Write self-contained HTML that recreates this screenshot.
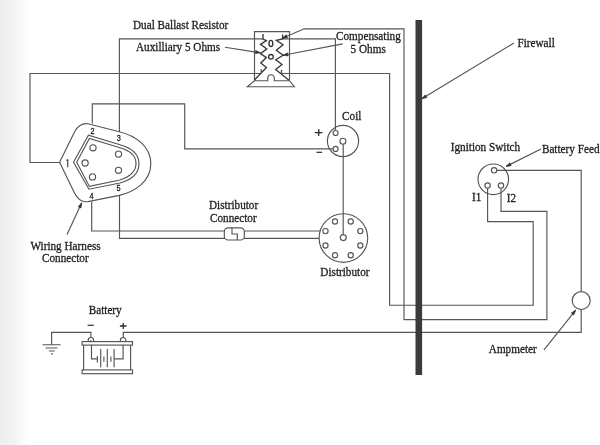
<!DOCTYPE html>
<html><head><meta charset="utf-8">
<style>
html,body{margin:0;padding:0;background:#fff;width:600px;height:445px;overflow:hidden}
svg{display:block;will-change:transform}
text{font-family:"Liberation Serif",serif;font-size:12px;fill:#1e1e1e;stroke:#1e1e1e;stroke-width:0.3}
.d{font-family:"Liberation Sans",sans-serif;font-size:8.6px}
</style></head><body>
<svg width="600" height="445" viewBox="0 0 600 445">
<defs><linearGradient id="lg" x1="0" x2="1" y1="0" y2="0"><stop offset="0" stop-color="#eeeeee"/><stop offset="0.5" stop-color="#f4f4f4"/><stop offset="1" stop-color="#ffffff"/></linearGradient></defs>
<rect x="0" y="0" width="30" height="445" fill="url(#lg)"/>
<g fill="none" stroke="#555" stroke-width="1.15">
<path d="M60,162.5 H30 V73.5 H261 M280.5,73.5 H389.6 V305.2 H533.2 V221.6 H487.6 V188.2"/>
<path d="M119.4,132 V38.8 H263 M282.5,38.8 H335.4 V130.5"/>
<path d="M92.3,123.5 V103.9 H184.7 V148.9 H333.1"/>
<path d="M91.7,201.5 V231 H320"/>
<path d="M119.5,195 V238.3 H319.1"/>
<path d="M343.2,144.2 V234.6"/>
<path d="M282.3,38.3 L304.2,28.8 H404 V319.6 H546.9 V211.3 H501 V188.2"/>
<path d="M496.8,170.3 H581.2 V291.6"/>
<path d="M581.2,309.6 V332.4 H123.3 V338"/>
<path d="M90.9,338 V332.4 H51.6 V344.7"/>
<path d="M42.5,344.7 H60.6 M45.6,348 H57.4 M49,351 H54.7 M51,353.8 H52.8"/>
<circle cx="581.2" cy="300.6" r="9"/>
<circle cx="343" cy="141" r="15.6"/>
<circle cx="335.6" cy="133" r="2.5"/>
<circle cx="342.9" cy="141.2" r="3"/>
<circle cx="335.6" cy="148.9" r="2.5"/>
<circle cx="343.4" cy="238" r="24.3"/>
<circle cx="343.3" cy="237.6" r="3"/>
<circle cx="335" cy="221.5" r="2.6"/>
<circle cx="350.7" cy="221.5" r="2.6"/>
<circle cx="325.5" cy="231.1" r="2.6"/>
<circle cx="360.3" cy="231.1" r="2.6"/>
<circle cx="325.5" cy="245.5" r="2.6"/>
<circle cx="360.3" cy="245.5" r="2.6"/>
<circle cx="335" cy="255.2" r="2.6"/>
<circle cx="350.7" cy="255.2" r="2.6"/>
<circle cx="493.3" cy="179.3" r="15.3"/>
<circle cx="494.1" cy="170.3" r="2.7"/>
<circle cx="487.6" cy="185.5" r="2.7"/>
<circle cx="501" cy="185.5" r="2.7"/>
<path d="M59.6,162.3 L74.5,132 Q79.5,122.5 88,123.7 L119.3,131.8 C134,135.5 150.8,145 150.8,163.8 C150.8,182 134,192 119.3,195.4 L88,201.6 Q79.5,203 74.5,193 Z"/>
<path d="M73.5,162.3 L88.4,135.3 L120,144.8 C131,148 139,153 139,163.5 C139,174 131,180 120,183 L89,189.2 Z"/>
<path d="M76.7,162.3 L89.4,138.5 L120,147.8 C129,150.5 136,155 136,163.5 C136,172 129,177 120,180 L89.4,186.4 Z"/>
<circle cx="93" cy="147.8" r="3.1"/>
<circle cx="85.1" cy="163" r="3.1"/>
<circle cx="92.5" cy="176.9" r="3.1"/>
<circle cx="118.5" cy="154.1" r="3.1"/>
<circle cx="118.5" cy="170.3" r="3.1"/>
<rect x="224.3" y="227.8" width="20" height="12.2" rx="3.8" ry="3.8" fill="#fff"/>
<path d="M232,227.8 V234 H237.3 V240"/>
<path d="M254.5,80.7 V31.6 H289.5 V80.7"/>
<path d="M247.3,86.7 L254.5,80.7 H267.8 V78 A3.25,3.25 0 0 1 274.3,78 V80.7 H289.5 L294.4,86.7 Z"/>
<path stroke="#3a3a3a" stroke-width="1.35" d="M263,34 V39 L266.4,40.6 L260.5,44.4 L266.8,48.9 L260.5,53.6 L266.4,57.6 L260.8,63 L266.4,67.5 L254.4,80"/>
<path stroke="#3a3a3a" stroke-width="1.35" d="M282.6,34.5 V39 L276.3,40.4 L283,44.8 L276.3,50.2 L283,55.2 L275.8,59.7 L282,64.5 L275.7,69.5 L289,80.2"/>
<path d="M261.3,69.3 V73.5 M281.5,69.8 V74.3" stroke-width="1.4"/>
<ellipse cx="270.9" cy="43.5" rx="1.9" ry="3.1" stroke-width="1.4" stroke="#333"/>
<circle cx="270.9" cy="56.8" r="2.3" stroke-width="1.3" stroke="#333"/>
<path d="M225,47.3 L260.5,52.8"/>
<path d="M342.7,43.9 L283,55.3"/>
<path d="M541,149 L506,166.5"/>
<path d="M67.1,234.4 L81.7,202.8"/>
<path d="M544,349.9 L575.7,310.1"/>
<path d="M514,43 L421.8,98.8"/>
<path d="M90.7,341.6 V340 M88.2,341.6 V340.2 A2.7,2.7 0 0 1 93.6,340.2 V341.6 M120.4,341.6 V340.2 A2.7,2.7 0 0 1 125.8,340.2 V341.6"/>
<rect x="82.1" y="341.6" width="50.4" height="3.5"/>
<rect x="82.1" y="369.9" width="50.4" height="3.8"/>
<path d="M83.6,345.1 V369.9 M130.6,345.1 V369.9"/>
<path d="M91.5,345.1 V358.9 H97.4 M97.4,355.9 V362.4 M100.7,348.9 V367.2 M103.9,356.4 V361.8 M107.3,348.9 V367.2 M110.9,356.4 V361.8 M114.1,348.9 V367.2 M114.1,358.9 H123.1 V345.1"/>
</g>
<g fill="#333" stroke="#333" stroke-width="0.6">
<path d="M260.50,52.80 L255.31,53.62 L255.80,50.45 Z"/>
<path d="M283.00,55.30 L287.61,52.79 L288.21,55.93 Z"/>
<path d="M506.00,166.50 L509.76,162.83 L511.19,165.70 Z"/>
<path d="M81.70,202.80 L81.06,208.01 L78.15,206.67 Z"/>
<path d="M575.70,310.10 L573.84,315.01 L571.33,313.01 Z"/>
<path d="M421.80,98.80 L425.25,94.84 L426.91,97.58 Z"/>
<path d="M282.30,38.30 L286.20,34.78 L287.52,37.70 Z"/>
</g>
<rect x="415.5" y="20" width="6.6" height="355" fill="#3a3a3a"/>
<text transform="translate(133,28.8) scale(0.935,1)">Dual Ballast Resistor</text>
<text transform="translate(136,50.5) scale(0.935,1)">Auxilliary 5 Ohms</text>
<text transform="translate(336,39.8) scale(0.935,1)">Compensating</text>
<text transform="translate(350.6,53.4) scale(0.935,1)">5 Ohms</text>
<text transform="translate(517.4,46.7) scale(0.935,1)">Firewall</text>
<text transform="translate(342.1,119.7) scale(0.935,1)">Coil</text>
<text transform="translate(450.7,150.8) scale(0.935,1)">Ignition Switch</text>
<text transform="translate(541.9,152.7) scale(0.935,1)">Battery Feed</text>
<text transform="translate(472,200.7) scale(0.935,1)">I1</text>
<text transform="translate(506.7,202) scale(0.935,1)">I2</text>
<text transform="translate(30.4,249.5) scale(0.935,1)">Wiring Harness</text>
<text transform="translate(42,262.1) scale(0.935,1)">Connector</text>
<text transform="translate(209,208.8) scale(0.935,1)">Distributor</text>
<text transform="translate(210,222.4) scale(0.935,1)">Connector</text>
<text transform="translate(320.3,276.4) scale(0.935,1)">Distributor</text>
<text transform="translate(88.7,314.2) scale(0.935,1)">Battery</text>
<text transform="translate(488.8,353.2) scale(0.935,1)">Ampmeter</text>
<g stroke="#2a2a2a" fill="none">
<path d="M67.8,159.4 V167.2 M66.5,160.7 L67.8,159.4" stroke-width="1.1" stroke="#333"/>
<path d="M314.8,132.6 H322.5 M318.7,129.3 V135.8" stroke-width="1.4"/>
<path d="M316.5,152.3 H322.1" stroke-width="1.2"/>
<path d="M87.6,325.3 H93.7" stroke-width="1.2"/>
<path d="M119.9,326 H126.5 M123.2,323 V329" stroke-width="1.3"/>
</g>
<g transform="scale(0.85,1)">

<text class="d" x="106.59" y="133.7">2</text>
<text class="d" x="137.41" y="140.7">3</text>
<text class="d" x="105.41" y="198.8">4</text>
<text class="d" x="137.18" y="190.6">5</text>
</g>
</svg>
</body></html>
